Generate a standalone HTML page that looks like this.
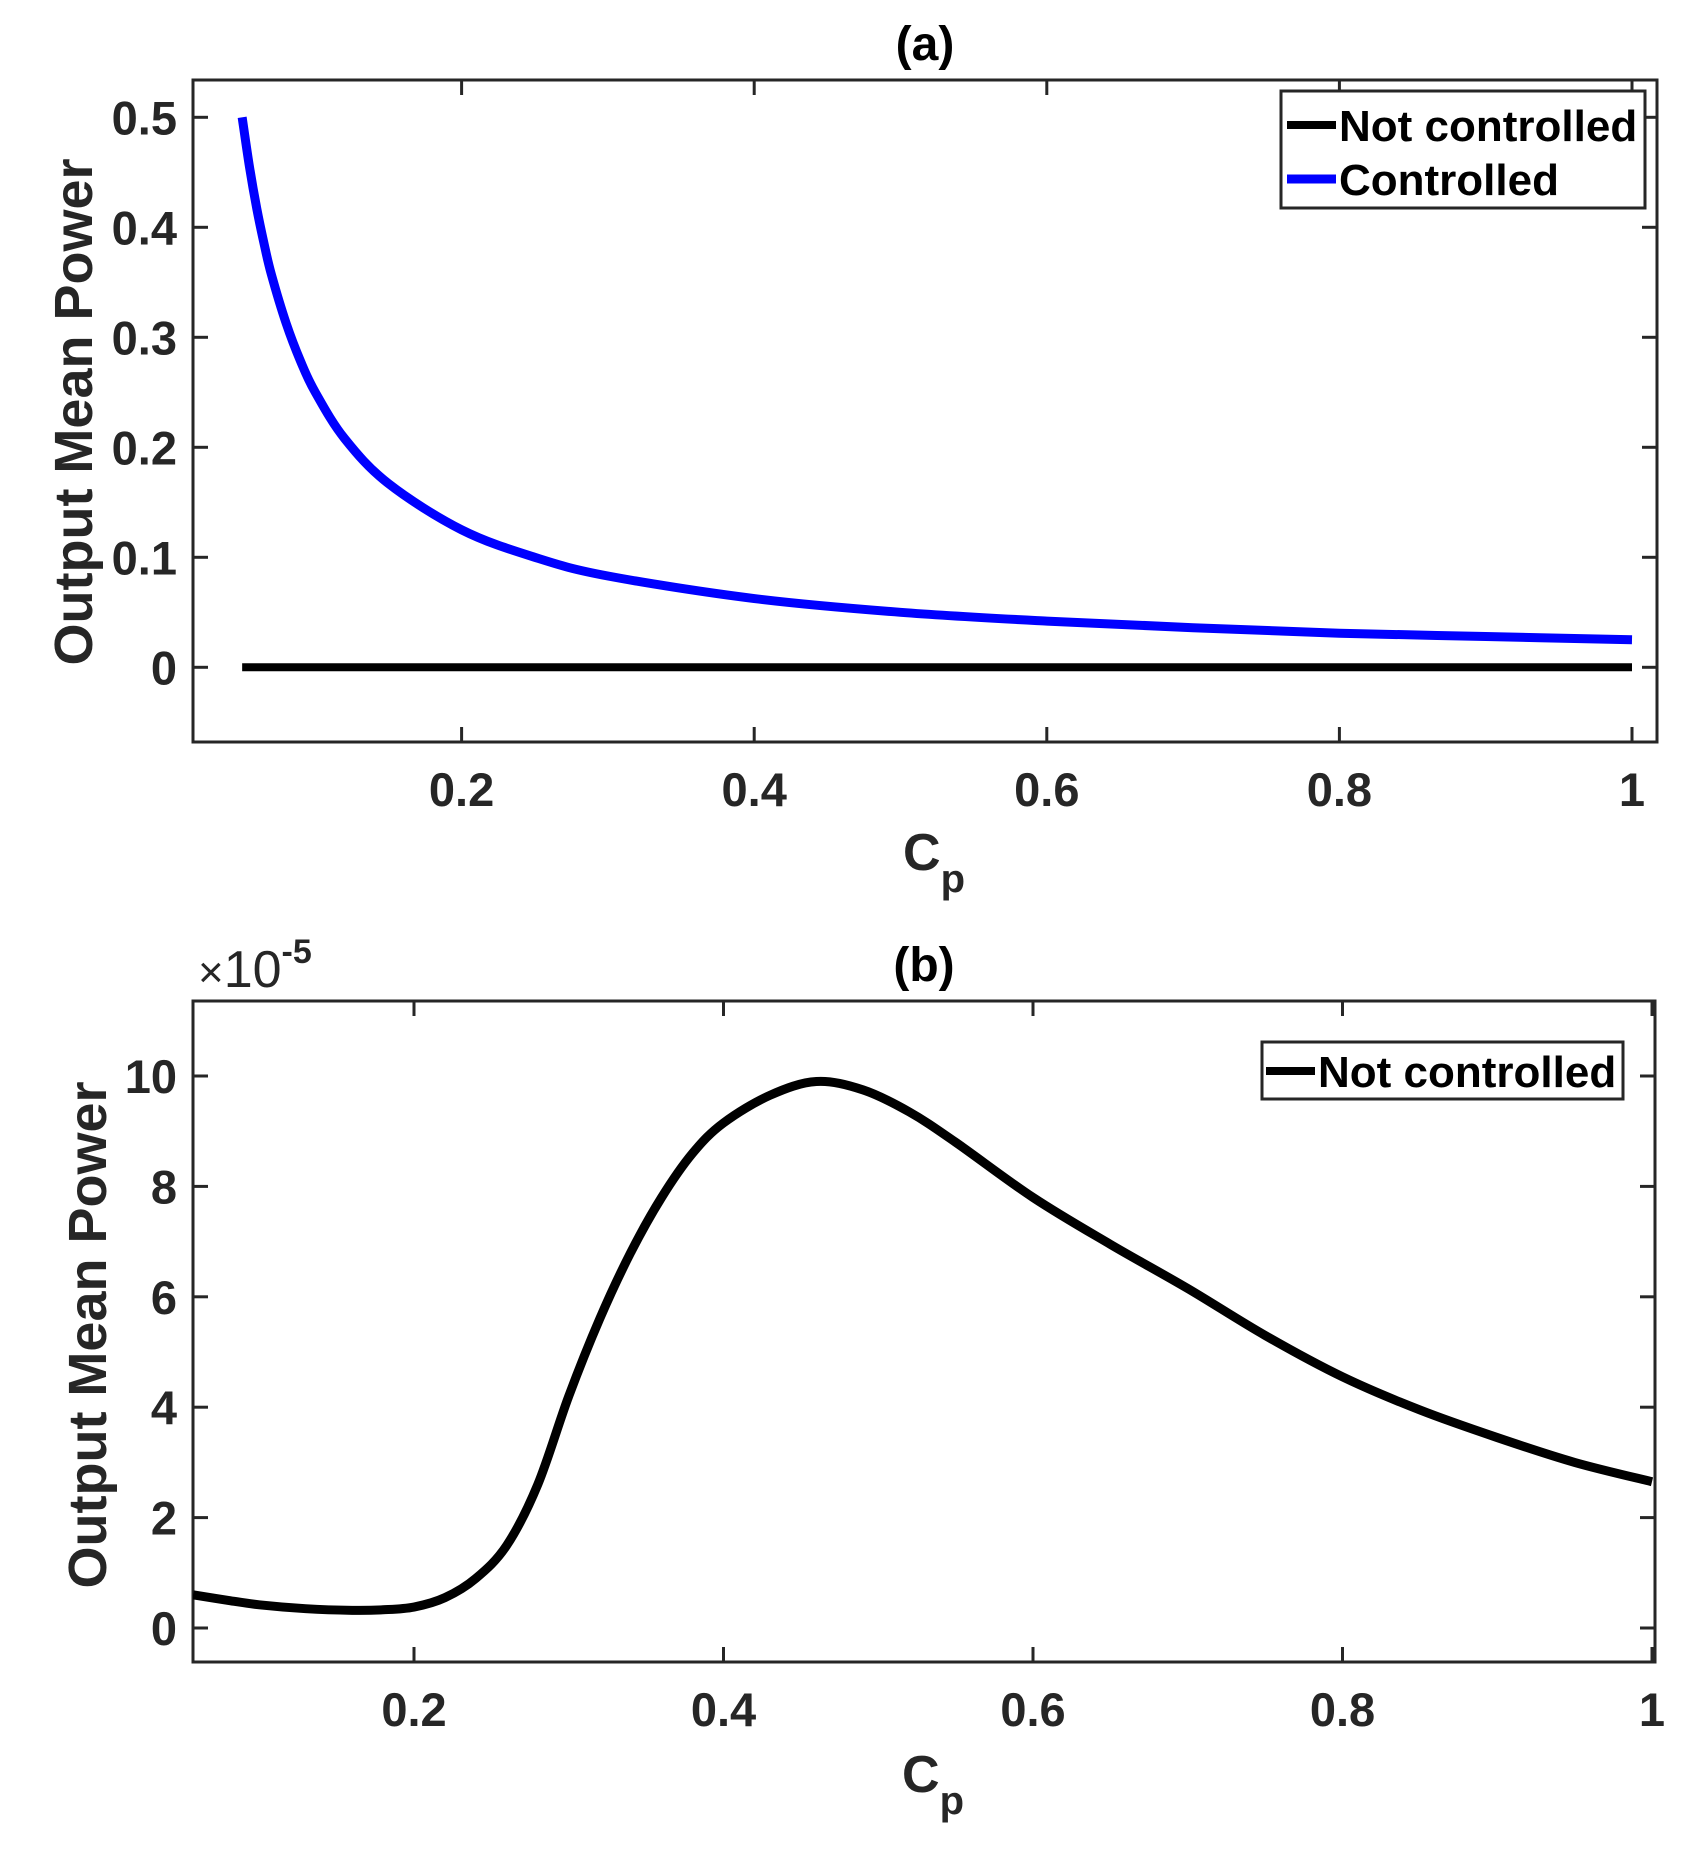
<!DOCTYPE html>
<html><head><meta charset="utf-8"><style>
html,body{margin:0;padding:0;background:#fff;}
svg{display:block;font-family:"Liberation Sans",Arial,sans-serif;font-weight:bold;}
</style></head><body>
<svg id="fig" width="1702" height="1861" viewBox="0 0 1702 1861" xmlns="http://www.w3.org/2000/svg">
<rect width="1702" height="1861" fill="#fff"/>
<g id="pa"></g>
<g id="pb"></g>
</svg>
<script>
// Panel (a) data
const aCp = [0.05,0.055,0.06,0.065,0.07,0.08,0.09,0.1,0.12,0.15,0.2,0.25,0.3,0.4,0.5,0.6,0.7,0.8,0.9,1.0];
const aControlled = [0.5,0.455,0.417,0.385,0.357,0.313,0.278,0.25,0.208,0.167,0.125,0.1,0.083,0.0625,0.05,0.042,0.036,0.031,0.028,0.025];
const aNotControlled = [0,0,0,0,0,0,0,0,0,0,0,0,0,0,0,0,0,0,0,0];
const aXTicks = [0.2,0.4,0.6,0.8,1];
const aXTickLabels = ["0.2","0.4","0.6","0.8","1"];
const aYTicks = [0,0.1,0.2,0.3,0.4,0.5];
const aYTickLabels = ["0","0.1","0.2","0.3","0.4","0.5"];
// Panel (b) data (x 1e-5)
const bCp = [0.0572,0.08,0.1,0.13,0.16,0.18,0.2,0.22,0.24,0.26,0.28,0.3,0.32,0.34,0.36,0.38,0.4,0.43,0.46,0.49,0.52,0.55,0.6,0.65,0.7,0.75,0.8,0.85,0.9,0.95,1.0];
const bNotControlled = [0.6,0.5,0.42,0.35,0.32,0.33,0.38,0.55,0.9,1.5,2.6,4.2,5.6,6.8,7.8,8.6,9.15,9.65,9.9,9.75,9.35,8.8,7.8,6.95,6.15,5.3,4.55,3.95,3.45,3.0,2.65];
const bXTicks = [0.2,0.4,0.6,0.8,1];
const bXTickLabels = ["0.2","0.4","0.6","0.8","1"];
const bYTicks = [0,2,4,6,8,10];
const bYTickLabels = ["0","2","4","6","8","10"];

const NS="http://www.w3.org/2000/svg";
function mk(parent,tag,attrs,text){const e=document.createElementNS(NS,tag);for(const k in attrs)e.setAttribute(k,attrs[k]);if(text!==undefined)e.textContent=text;parent.appendChild(e);return e;}
function smoothPath(xs,ys,sx,sy){
  const p=xs.map((x,i)=>[sx(x),sy(ys[i])]);
  let d=`M${p[0][0]},${p[0][1]}`;
  for(let i=0;i<p.length-1;i++){
    const p0=p[Math.max(i-1,0)],p1=p[i],p2=p[i+1],p3=p[Math.min(i+2,p.length-1)];
    const c1=[p1[0]+(p2[0]-p0[0])/6,p1[1]+(p2[1]-p0[1])/6];
    const c2=[p2[0]-(p3[0]-p1[0])/6,p2[1]-(p3[1]-p1[1])/6];
    d+=` C${c1[0]},${c1[1]} ${c2[0]},${c2[1]} ${p2[0]},${p2[1]}`;
  }
  return d;
}
function axes(g,box,sx,sy,xt,xl,yt,yl){
  const col="#262626";
  for(let i=0;i<xt.length;i++){
    const x=sx(xt[i]);
    const t1=mk(g,'line',{x1:x,x2:x,y1:box.b,y2:box.b-15,stroke:col,'stroke-width':3});
    
    
    mk(g,'line',{x1:x,x2:x,y1:box.t,y2:box.t+15,stroke:col,'stroke-width':3});
    const tx=mk(g,'text',{x:x,y:box.b+64,'text-anchor':'middle','font-size':47,fill:col},xl[i]);
    
    
  }
  for(let i=0;i<yt.length;i++){
    const y=sy(yt[i]);
    const t1=mk(g,'line',{x1:box.l,x2:box.l+15,y1:y,y2:y,stroke:col,'stroke-width':3});
    
    
    mk(g,'line',{x1:box.r,x2:box.r-15,y1:y,y2:y,stroke:col,'stroke-width':3});
    const ty=mk(g,'text',{x:box.l-16,y:y+17,'text-anchor':'end','font-size':47,fill:col},yl[i]);
    
    
  }
  const fr=mk(g,'rect',{x:box.l,y:box.t,width:box.r-box.l,height:box.b-box.t,fill:'none',stroke:col,'stroke-width':3});
  
  
}
function labels(g,box,title,ylabelY,ylabelX,xlabY){
  const col="#262626";
  const cx=(box.l+box.r)/2;
  const t=mk(g,'text',{x:cx,y:box.t-20,'text-anchor':'middle','font-size':48,fill:'#000'},title);
  
  
  const xl=mk(g,'text',{x:cx-22,y:xlabY,'font-size':52,fill:col});
  
  
  xl.innerHTML='C<tspan dy="22" font-size="40">p</tspan>';
  const yl=mk(g,'text',{x:ylabelX,y:ylabelY,'text-anchor':'middle','font-size':54,fill:col,transform:`rotate(-90 ${ylabelX} ${ylabelY})`},'Output Mean Power');
  
  
}

// Panel a
(function(){
  const g=document.getElementById('pa');
  const box={l:193,r:1657,t:80,b:742};
  const sx=v=>169+v*1463, sy=v=>667.3-v*1100;
  axes(g,box,sx,sy,aXTicks,aXTickLabels,aYTicks,aYTickLabels);
  labels(g,box,'(a)',412,92,870);
  const l1=mk(g,'path',{d:smoothPath(aCp,aNotControlled,sx,sy),fill:'none',stroke:'#000','stroke-width':8});
  
  
  const l2=mk(g,'path',{d:smoothPath(aCp,aControlled,sx,sy),fill:'none',stroke:'#0000ff','stroke-width':9});
  
  
  const lg=mk(g,'g',{});
  
  
  mk(lg,'rect',{x:1281,y:91,width:364,height:117,fill:'#fff',stroke:'#262626','stroke-width':3});
  const e1=mk(lg,'g',{});
  
  
  mk(e1,'line',{x1:1287,x2:1336,y1:125,y2:125,stroke:'#000','stroke-width':8});
  mk(e1,'text',{x:1339,y:141,'font-size':44,fill:'#000'},'Not controlled');
  const e2=mk(lg,'g',{});
  
  
  mk(e2,'line',{x1:1287,x2:1336,y1:179,y2:179,stroke:'#0000ff','stroke-width':9});
  mk(e2,'text',{x:1339,y:195,'font-size':44,fill:'#000'},'Controlled');
})();

// Panel b
(function(){
  const g=document.getElementById('pb');
  const box={l:193,r:1655,t:1001,b:1662};
  const sx=v=>104.5+v*1547.5, sy=v=>1628-v*55.2;
  axes(g,box,sx,sy,bXTicks,bXTickLabels,bYTicks,bYTickLabels);
  labels(g,box,'(b)',1335,106,1792);
  const ex=mk(g,'text',{x:198,y:987,'font-size':52,fill:'#262626','font-weight':'normal'});
  
  
  ex.innerHTML='<tspan font-size="44">×</tspan><tspan font-weight="normal">10</tspan><tspan dy="-24" font-size="34" font-weight="bold">-5</tspan>';
  const cp=mk(g,'clipPath',{id:'clipb'});
  mk(cp,'rect',{x:box.l,y:box.t,width:box.r-box.l,height:box.b-box.t});
  const l1=mk(g,'path',{d:smoothPath(bCp,bNotControlled,sx,sy),fill:'none',stroke:'#000','stroke-width':9,'clip-path':'url(#clipb)'});
  
  
  const lg=mk(g,'g',{});
  
  
  mk(lg,'rect',{x:1262,y:1042,width:361,height:57,fill:'#fff',stroke:'#262626','stroke-width':3});
  mk(lg,'line',{x1:1266,x2:1315,y1:1071,y2:1071,stroke:'#000','stroke-width':8});
  mk(lg,'text',{x:1318,y:1087,'font-size':44,fill:'#000'},'Not controlled');
})();
</script>
</body></html>
